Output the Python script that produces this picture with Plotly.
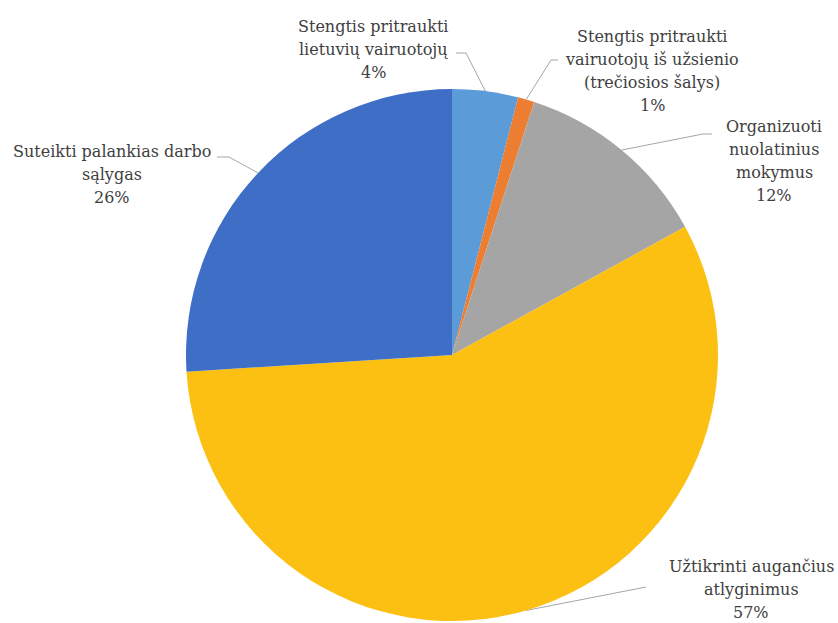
import math
import plotly.graph_objects as go

# Survey answers (share of respondents, %)
labels = [
    ["Stengtis pritraukti", "lietuvių vairuotojų"],
    ["Stengtis pritraukti", "vairuotojų iš užsienio", "(trečiosios šalys)"],
    ["Organizuoti", "nuolatinius", "mokymus"],
    ["Užtikrinti augančius", "atlyginimus"],
    ["Suteikti palankias darbo", "sąlygas"],
]
values = [4, 1, 12, 57, 26]
colors = ["#5b9bd8", "#ed7d31", "#a5a5a5", "#fcc012", "#3f6ec6"]

W, H = 838, 623
# pie box in pixels
CX, CY, R = 452, 355, 266

FONT = "DejaVu Serif"
FONT_SIZE = 16
LINE_STEP = 23

# label placement: horizontal centre and first-line baseline (pixels)
label_pos = [(373, 32), (652, 42), (774, 132), (751, 572), (112, 157)]
# leader elbow and the end next to the label
elbows = [(466, 53), (551, 60), (703, 134), (640, 588), (229, 157)]
ends = [(456, 53), (558, 60), (712, 134), (646, 587), (217, 157)]

fig = go.Figure()

fig.add_trace(go.Pie(
    values=values,
    labels=[" ".join(l) for l in labels],
    sort=False,
    direction="clockwise",
    rotation=0,
    textinfo="none",
    hoverinfo="label+percent",
    marker=dict(colors=colors, line=dict(width=0)),
    showlegend=False,
    domain=dict(x=[(CX - R) / W, (CX + R) / W],
                y=[(H - (CY + R)) / H, (H - (CY - R)) / H]),
))

# leader lines from slice midpoints on the rim to the labels
total = sum(values)
cum = 0
for i, v in enumerate(values):
    mid = (cum + v / 2) / total
    cum += v
    th = 2 * math.pi * mid
    px = CX + R * math.sin(th)
    py = CY - R * math.cos(th)
    ex, ey = elbows[i]
    tx, ty = ends[i]
    fig.add_trace(go.Scatter(
        x=[px, ex, tx], y=[py, ey, ty], mode="lines",
        line=dict(color="#a6a6a6", width=1),
        hoverinfo="skip", showlegend=False,
    ))
    lx, base = label_pos[i]
    lines = labels[i] + [f"{v}%"]
    for k, line in enumerate(lines):
        fig.add_annotation(
            x=lx, y=base + k * LINE_STEP - 6, xref="x", yref="y",
            text=line, showarrow=False,
            xanchor="center", yanchor="middle",
            font=dict(family=FONT, size=FONT_SIZE, color="#404040"),
        )

fig.update_layout(
    width=W, height=H,
    margin=dict(l=0, r=0, t=0, b=0),
    paper_bgcolor="white", plot_bgcolor="rgba(0,0,0,0)",
    font=dict(family=FONT),
    xaxis=dict(range=[0, W], visible=False, fixedrange=True),
    yaxis=dict(range=[H, 0], visible=False, fixedrange=True),
)

fig.write_html("out.html")
